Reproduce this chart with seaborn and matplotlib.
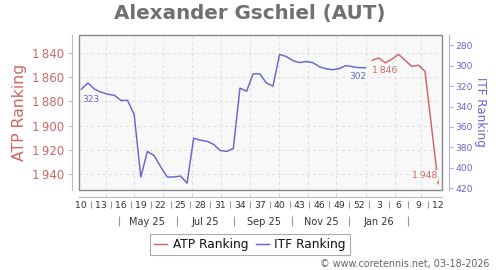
import numpy as np
import pandas as pd
import matplotlib
matplotlib.use("Agg")
import matplotlib.pyplot as plt
import matplotlib.dates as mdates
from matplotlib.patches import Rectangle
from matplotlib.ticker import FuncFormatter, FixedLocator
import seaborn as sns

# ---------------- data ----------------
title = "Alexander Gschiel (AUT)"
itf_first_week = "2025-03-06"          # ISO week 10 of 2025 (Thursday)
itf_rank = [323, 317, 323, 326, 328, 329, 334, 334, 348, 409,
            384, 388, 399, 409, 409, 408, 415, 371, 373, 374,
            377, 383, 384, 381, 322, 325, 308, 308, 317, 320,
            289, 291, 295, 297, 296, 297, 301, 303, 304, 303,
            300, 301, 302, 302]
atp_weeks = ["2026-W02", "2026-W03", "2026-W04", "2026-W05", "2026-W06",
             "2026-W07", "2026-W08", "2026-W09", "2026-W10", "2026-W12"]
atp_rank = [1846, 1844, 1848, 1845, 1841, 1846, 1851, 1850, 1855, 1948]
week_tick_labels = ["10", "13", "16", "19", "22", "25", "28", "31", "34", "37",
                    "40", "43", "46", "49", "52", "3", "6", "9", "12"]
month_labels = ["May 25", "Jul 25", "Sep 25", "Nov 25", "Jan 26"]
atp_ticks = [1840, 1860, 1880, 1900, 1920, 1940]
itf_ticks = [280, 300, 320, 340, 360, 380, 400, 420]
footer = "\u00a9 www.coretennis.net, 03-18-2026"

ATP_C = "#cc6666"
ITF_C = "#6666cc"

itf_dates = pd.date_range(itf_first_week, periods=len(itf_rank), freq="7D")
atp_dates = pd.to_datetime([w + "-4" for w in atp_weeks], format="%G-W%V-%u")
itf_df = pd.DataFrame({"x": mdates.date2num(itf_dates), "rank": itf_rank})
atp_df = pd.DataFrame({"x": mdates.date2num(atp_dates), "rank": atp_rank})

week_tick_x = mdates.date2num(pd.date_range(itf_first_week, periods=len(week_tick_labels), freq="21D"))
week_sep_x = (week_tick_x[:-1] + week_tick_x[1:]) / 2
month_grid_x = mdates.date2num(pd.date_range("2025-04-01", "2026-03-01", freq="MS"))
month_lab_x = mdates.date2num(pd.date_range("2025-05-01", periods=len(month_labels), freq="2MS") + pd.Timedelta(days=14))
month_sep_x = mdates.date2num(pd.date_range("2025-04-01", periods=len(month_labels) + 1, freq="2MS") + pd.Timedelta(days=14))

def thin(v, pos=None):
    return f"{int(round(v)):,}".replace(",", "\u2009")

# ---------------- figure ----------------
W, H = 500, 270
fig = plt.figure(figsize=(W / 100, H / 100), dpi=100)
L, R, T, B = 78.5, 441.7, 35.0, 190.3
ax = fig.add_axes([L / W, 1 - B / H, (R - L) / W, (B - T) / H])
ax.set_facecolor("#f8f8f8")
ax2 = ax.twinx()

sns.lineplot(data=atp_df, x="x", y="rank", ax=ax, color=ATP_C, lw=1.05,
             label="ATP Ranking", legend=False)
sns.lineplot(data=itf_df, x="x", y="rank", ax=ax2, color=ITF_C, lw=1.05,
             label="ITF Ranking", legend=False)

x0 = mdates.date2num(pd.Timestamp(itf_first_week)) - 3.0
x1 = mdates.date2num(atp_dates[-1]) + 3.7
ax.set_xlim(x0, x1)
ax.set_ylim(1953.5, 1825)
ax2.set_ylim(422, 270)

# y axes
ax.set_yticks(atp_ticks)
ax.yaxis.set_major_formatter(FuncFormatter(thin))
ax.tick_params(axis="y", length=3, width=0.8, color="#e0b0b0",
               labelcolor=ATP_C, labelsize=8.5, pad=2.4)
ax2.set_yticks(itf_ticks)
ax2.tick_params(axis="y", length=3, width=0.8, color="#b0b0e6",
                labelcolor=ITF_C, labelsize=6.6, pad=2.0)
ax.set_ylabel("")
ax2.set_ylabel("")
ax.set_xlabel("")
ax2.set_xlabel("")

for s in ["top", "right"]:
    ax.spines[s].set_visible(False)
ax.spines["left"].set_position(("outward", 5))
ax.spines["left"].set_color("#e0b0b0")
ax.spines["bottom"].set_position(("outward", 5))
ax.spines["bottom"].set_color("#bbbbbb")
for s in ["left", "top", "bottom"]:
    ax2.spines[s].set_visible(False)
ax2.spines["right"].set_position(("outward", 5))
ax2.spines["right"].set_color("#b0b0e6")

# grid
ax.set_xticks(month_grid_x)
ax.set_xticklabels([])
ax.tick_params(axis="x", direction="in", length=3, color="#cccccc", width=0.6)
ax.grid(True, axis="both", color="#dddddd", linestyle=(0, (3, 3)), lw=0.7)
ax.set_axisbelow(True)

# frame
ax2.add_patch(Rectangle((0, 0), 1, 1, transform=ax.transAxes, fill=False,
                        edgecolor="#888888", lw=1.0, clip_on=False, zorder=5))

# week row
h_ax = B - T
sec = ax.secondary_xaxis(-(200.7 - B) / h_ax)
sec.spines["bottom"].set_visible(False)
sec.set_xticks(week_tick_x)
sec.set_xticklabels(week_tick_labels)
sec.xaxis.set_minor_locator(FixedLocator(week_sep_x))
sec.tick_params(axis="x", which="major", length=0, labelsize=6.7, pad=0.2, labelcolor="#333333")
sec.tick_params(axis="x", which="minor", length=5.3, width=0.8, color="#999999", direction="out")

# month row
sec2 = ax.secondary_xaxis(-(215.7 - B) / h_ax)
sec2.spines["bottom"].set_visible(False)
sec2.set_xticks(month_lab_x)
sec2.set_xticklabels(month_labels)
sec2.xaxis.set_minor_locator(FixedLocator(month_sep_x))
sec2.tick_params(axis="x", which="major", length=0, labelsize=7.0, pad=0.8, labelcolor="#333333")
sec2.tick_params(axis="x", which="minor", length=7.2, width=0.8, color="#999999", direction="out")

# point labels
bb = dict(facecolor="#f8f8f8", edgecolor="none", pad=0.6)
ax2.annotate(str(itf_rank[0]), xy=(itf_df.x.iloc[0], itf_rank[0]), xytext=(0.8, -7.2),
             textcoords="offset points", ha="left", va="center", fontsize=6.5, color=ITF_C, bbox=bb)
ax2.annotate(str(itf_rank[-1]), xy=(itf_df.x.iloc[-1], itf_rank[-1]), xytext=(0.5, -6.2),
             textcoords="offset points", ha="right", va="center", fontsize=6.5, color=ITF_C, bbox=bb)
ax.annotate(thin(atp_rank[0]), xy=(atp_df.x.iloc[0], atp_rank[0]), xytext=(0, -7.0),
            textcoords="offset points", ha="left", va="center", fontsize=6.7, color=ATP_C, bbox=bb, zorder=6)
ax.annotate(thin(atp_rank[-1]), xy=(atp_df.x.iloc[-1], atp_rank[-1]), xytext=(-0.4, 5.9),
            textcoords="offset points", ha="right", va="center", fontsize=6.7, color=ATP_C, bbox=bb, zorder=6)

# texts
fig.text(249.5 / W, 1 - 13.5 / H, title, ha="center", va="center", fontsize=14.3,
         fontweight="bold", color="#707070")
fig.text(20 / W, 1 - 112.4 / H, "ATP Ranking", rotation=90, ha="center", va="center",
         fontsize=11.3, color=ATP_C)
fig.text(480.5 / W, 1 - 111.8 / H, "ITF Ranking", rotation=270, ha="center", va="center",
         fontsize=8.6, color=ITF_C)
fig.text(489 / W, 1 - 263.5 / H, footer, ha="right", va="center", fontsize=6.9, color="#666666")

h1, l1 = ax.get_legend_handles_labels()
h2, l2 = ax2.get_legend_handles_labels()
leg = fig.legend(h1 + h2, l1 + l2, loc="center", bbox_to_anchor=(0.5, 1 - 244.5 / H), ncol=2,
                 fontsize=8.7, handlelength=1.1, handletextpad=0.45, columnspacing=0.6,
                 borderpad=0.35, fancybox=False, edgecolor="#aaaaaa", framealpha=1)
leg.get_frame().set_linewidth(0.8)
for t in leg.get_texts():
    t.set_color("#111111")

fig.savefig("out.png", dpi=100)
